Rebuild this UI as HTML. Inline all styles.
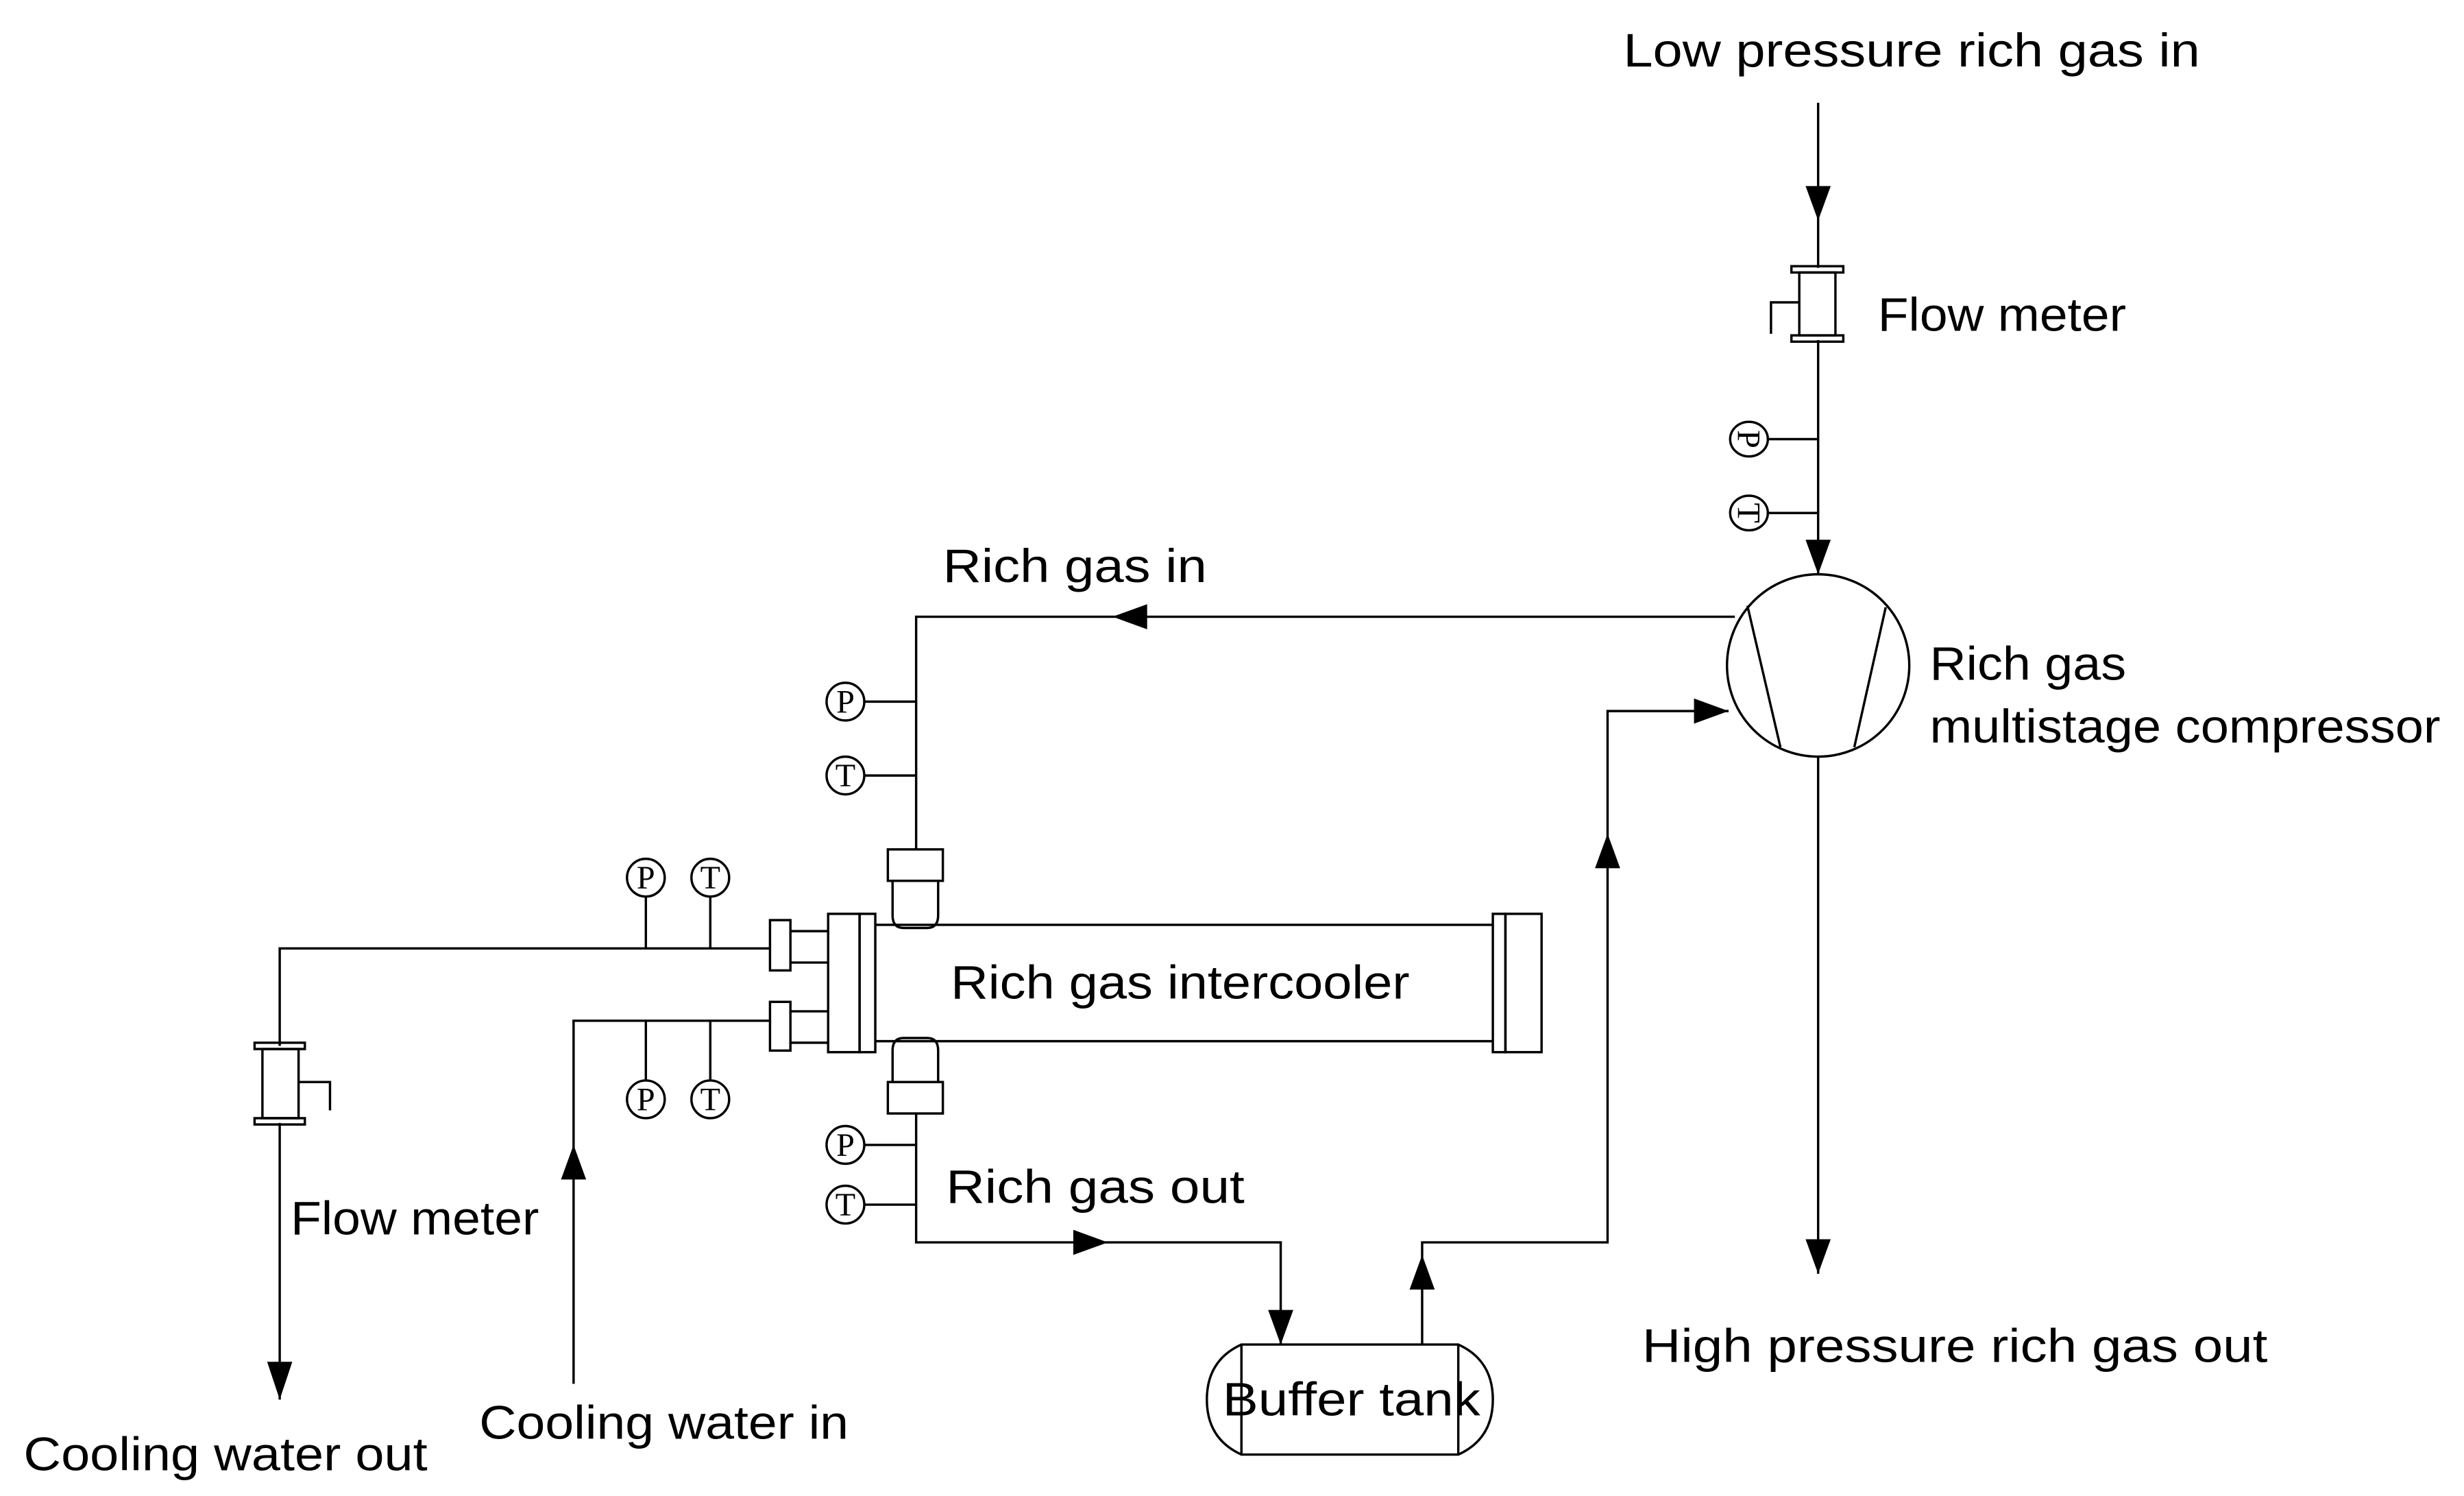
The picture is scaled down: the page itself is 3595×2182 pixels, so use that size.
<!DOCTYPE html>
<html><head><meta charset="utf-8"><style>
html,body{margin:0;padding:0;background:#fff;}
svg{display:block;}
text{font-family:"Liberation Sans",sans-serif;font-size:30px;fill:#000;font-weight:300;}
.s{font-family:"Liberation Serif",serif;font-size:21px;}
</style></head><body>
<svg width="3595" height="2182" viewBox="0 0 1568 951" xmlns="http://www.w3.org/2000/svg">
<g fill="none" stroke="#000" stroke-width="1.5">
<line x1="1157" y1="65" x2="1157" y2="170"/>
<line x1="1157" y1="216" x2="1157" y2="365"/>
<rect x="1140" y="169" width="33" height="4"/>
<rect x="1140" y="213" width="33" height="4"/>
<rect x="1145" y="173" width="23" height="40"/>
<polyline points="1145,192 1127,192 1127,212"/>
<line x1="1125" y1="279" x2="1157" y2="279"/>
<line x1="1125" y1="326" x2="1157" y2="326"/>
<ellipse cx="1113" cy="279" rx="12" ry="11"/>
<ellipse cx="1113" cy="326" rx="12" ry="11"/>
<circle cx="1157" cy="423" r="58"/>
<line x1="1112" y1="385" x2="1133" y2="475"/>
<line x1="1200" y1="386" x2="1180" y2="475"/>
<line x1="1157" y1="481" x2="1157" y2="810"/>
<polyline points="1104,392 583,392 583,540"/>
<line x1="550" y1="446" x2="583" y2="446"/>
<line x1="550" y1="493" x2="583" y2="493"/>
<circle cx="538" cy="446" r="12"/>
<circle cx="538" cy="493" r="12"/>
<rect x="565" y="540" width="35" height="20"/>
<path d="M568,560 V582 Q568,590 575,590 H590 Q597,590 597,582 V560"/>
<line x1="557" y1="588" x2="950" y2="588"/>
<line x1="557" y1="662" x2="950" y2="662"/>
<rect x="527" y="581" width="20" height="88"/>
<rect x="547" y="581" width="10" height="88"/>
<rect x="950" y="581" width="8" height="88"/>
<rect x="958" y="581" width="23" height="88"/>
<rect x="490" y="585" width="13" height="32"/>
<rect x="490" y="637" width="13" height="31"/>
<line x1="503" y1="592" x2="527" y2="592"/>
<line x1="503" y1="612" x2="527" y2="612"/>
<line x1="503" y1="643" x2="527" y2="643"/>
<line x1="503" y1="663" x2="527" y2="663"/>
<path d="M568,688 V668 Q568,660 575,660 H590 Q597,660 597,668 V688"/>
<rect x="565" y="688" width="35" height="20"/>
<polyline points="583,708 583,790 815,790 815,855"/>
<line x1="550" y1="728" x2="583" y2="728"/>
<line x1="550" y1="766" x2="583" y2="766"/>
<circle cx="538" cy="728" r="12"/>
<circle cx="538" cy="766" r="12"/>
<polyline points="490,603 178,603 178,665"/>
<line x1="178" y1="714" x2="178" y2="890"/>
<rect x="162" y="663" width="32" height="4"/>
<rect x="162" y="711" width="32" height="4"/>
<rect x="167" y="667" width="23" height="44"/>
<polyline points="190,688 210,688 210,706"/>
<polyline points="490,649 365,649 365,880"/>
<line x1="411" y1="570" x2="411" y2="603"/>
<line x1="452" y1="570" x2="452" y2="603"/>
<line x1="411" y1="649" x2="411" y2="687"/>
<line x1="452" y1="649" x2="452" y2="687"/>
<circle cx="411" cy="558" r="12"/>
<circle cx="452" cy="558" r="12"/>
<circle cx="411" cy="699" r="12"/>
<circle cx="452" cy="699" r="12"/>
<path d="M790,855 H928 Q950,865 950,890 Q950,915 928,925 H790 Q768,915 768,890 Q768,865 790,855 Z"/>
<line x1="790" y1="855" x2="790" y2="925"/>
<line x1="928" y1="855" x2="928" y2="925"/>
<polyline points="905,855 905,790 1023,790 1023,452 1100,452"/>
</g>
<g fill="#000">
<polygon points="1149,118 1165,118 1157,140"/>
<polygon points="1149,343 1165,343 1157,365"/>
<polygon points="1149,788 1165,788 1157,810"/>
<polygon points="708,392 730,384 730,400"/>
<polygon points="1078,444 1078,460 1100,452"/>
<polygon points="1015,552 1031,552 1023,530"/>
<polygon points="683,782 683,798 705,790"/>
<polygon points="807,833 823,833 815,855"/>
<polygon points="897,820 913,820 905,798"/>
<polygon points="170,866 186,866 178,890"/>
<polygon points="357,750 373,750 365,728"/>
</g>
<g text-anchor="middle">
<text class="s" x="538" y="453">P</text>
<text class="s" x="538" y="500">T</text>
<text class="s" x="538" y="735">P</text>
<text class="s" x="538" y="773">T</text>
<text class="s" x="411" y="565">P</text>
<text class="s" x="452" y="565">T</text>
<text class="s" x="411" y="706">P</text>
<text class="s" x="452" y="706">T</text>
<text class="s" transform="translate(1113,279) rotate(90)" y="7">P</text>
<text class="s" transform="translate(1113,326) rotate(90)" y="7">T</text>
</g>
<text x="1033" y="42" textLength="367" lengthAdjust="spacingAndGlyphs">Low pressure rich gas in</text>
<text x="1195" y="210" textLength="158" lengthAdjust="spacingAndGlyphs">Flow meter</text>
<text x="600" y="370" textLength="168" lengthAdjust="spacingAndGlyphs">Rich gas in</text>
<text x="1228" y="432" textLength="125" lengthAdjust="spacingAndGlyphs">Rich gas</text>
<text x="1228" y="472" textLength="325" lengthAdjust="spacingAndGlyphs">multistage compressor</text>
<text x="605" y="635" textLength="292" lengthAdjust="spacingAndGlyphs">Rich gas intercooler</text>
<text x="602" y="765" textLength="190" lengthAdjust="spacingAndGlyphs">Rich gas out</text>
<text x="185" y="785" textLength="158" lengthAdjust="spacingAndGlyphs">Flow meter</text>
<text x="1045" y="866" textLength="398" lengthAdjust="spacingAndGlyphs">High pressure rich gas out</text>
<text x="778" y="900" textLength="164" lengthAdjust="spacingAndGlyphs">Buffer tank</text>
<text x="305" y="915" textLength="235" lengthAdjust="spacingAndGlyphs">Cooling water in</text>
<text x="15" y="935" textLength="257" lengthAdjust="spacingAndGlyphs">Cooling water out</text>
</svg>
</body></html>
